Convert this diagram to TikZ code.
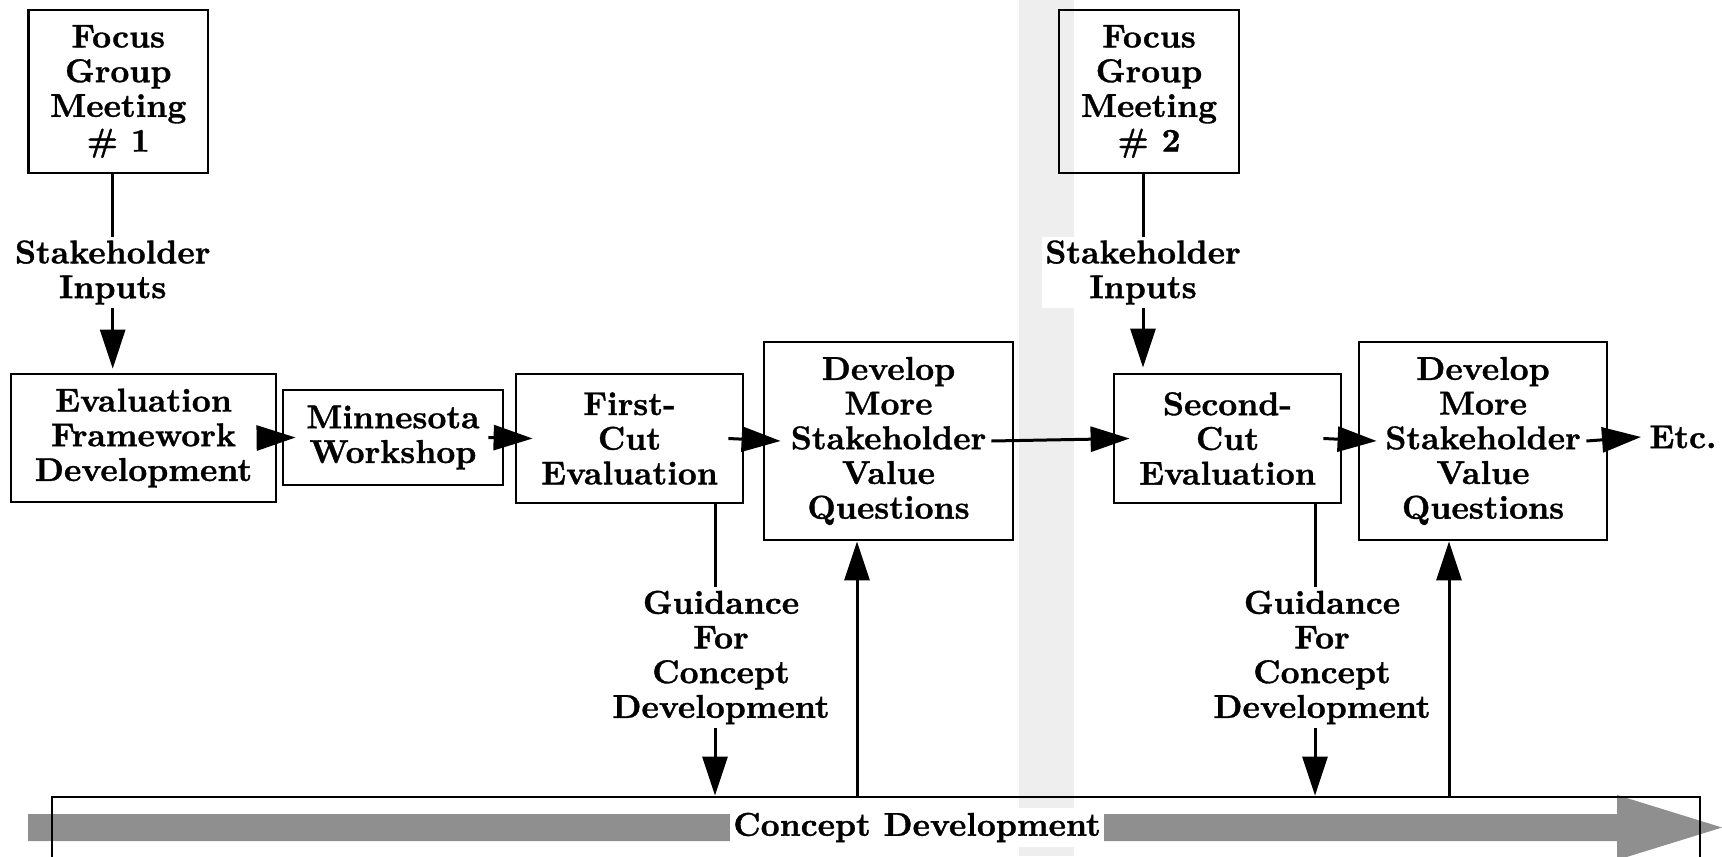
\documentclass[tikz,border=0pt]{standalone}
\usepackage{fontspec}
\newfontfamily\labfont{lmroman10-bold}[Extension=.otf, FakeBold=1]
\usetikzlibrary{arrows.meta,calc}
\definecolor{bandgray}{HTML}{EEEEEE}
\definecolor{bargray}{HTML}{8F8F8F}
\begin{document}
\begin{tikzpicture}[x=0.5pt,y=-0.5pt,
  every node/.style={font=\labfont\fontsize{16.5pt}{17.35pt}\selectfont,
                     align=center, inner sep=0pt},
  box/.style={draw, line width=1.4pt},
  lbl/.style={fill=white, inner xsep=1.5pt, inner ysep=1.75pt},
  link/.style={line width=1.5pt},
  flow/.style={line width=1.5pt, -{Triangle[length=19.5pt,width=12.5pt]}},
]
\useasboundingbox (0,0) rectangle (1722,856);

% phase separator band
\fill[bandgray] (1019,0) rectangle (1074,856);

% concept development timeline arrow
\fill[bargray] (28,814) -- (1617,814) -- (1617,795) -- (1722,827.5)
  -- (1617,860) -- (1617,841) -- (28,841) -- cycle;

% boxes
\node[box, minimum width=89.75pt, minimum height=81.5pt] (fg1) at (118.25,91.5)
  {Focus\\Group\\Meeting\\\# 1};
\node[box, minimum width=90pt, minimum height=81.5pt] (fg2) at (1149,91.5)
  {Focus\\Group\\Meeting\\\# 2};
\node[box, minimum width=132.5pt, minimum height=64pt] (eval) at (143.5,438)
  {Evaluation\\Framework\\Development};
\node[box, minimum width=110pt, minimum height=47.5pt] (minn) at (393,437.5)
  {Minnesota\\Workshop};
\node[box, minimum width=113.5pt, minimum height=64.5pt] (fc) at (629.5,438.5)
  {First-\\Cut\\Evaluation};
\node[box, minimum width=124.5pt, minimum height=99pt] (dev1) at (888.5,441)
  {Develop\\More\\Stakeholder\\Value\\Questions};
\node[box, minimum width=113.5pt, minimum height=64.5pt] (sc) at (1227.5,438.5)
  {Second-\\Cut\\Evaluation};
\node[box, minimum width=124pt, minimum height=99pt] (dev2) at (1483,441)
  {Develop\\More\\Stakeholder\\Value\\Questions};
\node[anchor=west] (etc) at (1649,437) {Etc.};
\node[box, minimum width=824pt, minimum height=40pt] (cbox) at (876,837) {};

% connector labels
\node[lbl] (si1) at (112.7,272.5) {Stakeholder\\Inputs};
\node[lbl] (si2) at (1143,272.5) {Stakeholder\\Inputs};
\node[lbl] (gd1) at (721,657.5) {Guidance\\For\\Concept\\Development};
\node[lbl] (gd2) at (1322,657.5) {Guidance\\For\\Concept\\Development};
\node[fill=white, inner xsep=1.5pt, inner ysep=2.5pt] (cd) at (917,827.5)
  {Concept Development};

% stakeholder inputs
\draw[link] (si1.north) -- (si1.north |- fg1.south);
\draw[flow, shorten >=2pt] (si1.south) -- (si1.south |- eval.north);
\draw[link] (si2.north) -- (si2.north |- fg2.south);
\draw[flow, shorten >=2.5pt] (si2.south) -- (si2.south |- sc.north);

% main flow
\draw[flow] ([xshift=-10pt]eval.east) -- ([xshift=7pt]minn.west);
\draw[flow] ([xshift=-8pt]minn.east) -- ([xshift=9pt]fc.west);
\draw[flow] ([xshift=-8pt]fc.east) -- ([xshift=9pt]dev1.west);
\draw[flow] ([xshift=-11.5pt]dev1.east) -- ([xshift=8.5pt]sc.west);
\draw[flow] ([xshift=-9.5pt]sc.east) -- ([xshift=9.5pt]dev2.west);
\draw[flow] ([xshift=-11pt]dev2.east) -- ([xshift=-4pt]etc.west);

% guidance down to concept development
\draw[link] ([xshift=-3pt]gd1.north) -- ([xshift=-3pt]gd1.north |- fc.south);
\draw[flow] ([xshift=-3pt]gd1.south) -- ([xshift=-3pt]gd1.south |- cbox.north);
\draw[link] ([xshift=-3.5pt]gd2.north) -- ([xshift=-3.5pt]gd2.north |- sc.south);
\draw[flow] ([xshift=-3.5pt]gd2.south) -- ([xshift=-3.5pt]gd2.south |- cbox.north);

% concept development feeding value questions
\draw[flow] ([xshift=-15.75pt]dev1.south |- cbox.north) -- ([xshift=-15.75pt]dev1.south);
\draw[flow] ([xshift=-17pt]dev2.south |- cbox.north) -- ([xshift=-17pt]dev2.south);
\end{tikzpicture}
\end{document}
